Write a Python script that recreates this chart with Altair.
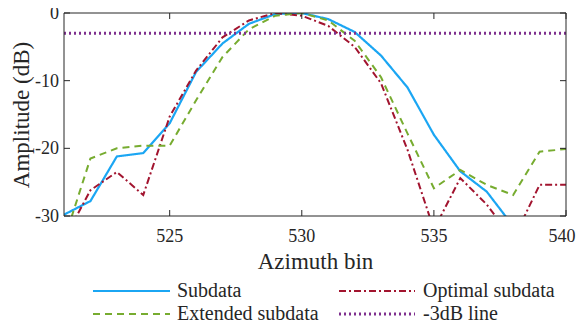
import altair as alt
import pandas as pd

bins = list(range(521, 541))
subdata = [-29.8, -27.8, -21.2, -20.7, -16.3, -8.7, -4.5, -1.6, -0.15, 0.0,
           -0.9, -2.8, -6.3, -11.0, -18.0, -23.4, -26.4, -31.5, -35.0, -38.0]
optimal = [-33.5, -26.2, -23.5, -26.9, -15.3, -8.5, -3.6, -1.1, 0.0, -0.4,
           -1.9, -5.0, -10.4, -20.2, -32.0, -24.4, -28.3, -33.5, -25.4, -25.4]
extended = [-33.6, -21.5, -20.0, -19.6, -19.6, -12.9, -6.5, -2.4, -0.4, 0.0,
            -1.1, -4.1, -9.5, -17.8, -25.9, -23.2, -25.4, -26.9, -20.5, -20.1]
line3db = [-3.0] * len(bins)

series_names = ["Subdata", "Optimal subdata", "Extended subdata", "-3dB line"]
series_vals = [subdata, optimal, extended, line3db]
colors = ["#1ba6f3", "#a2142f", "#77ac30", "#7e2f8e"]
dashes = [[1, 0], [7, 3, 2, 3], [7, 5], [2, 3]]
widths = [2.2, 2.0, 2.0, 3.0]

x_ticks = [525, 530, 535, 540]
y_ticks = [0, -10, -20, -30]
x_tick_labels = ["525", "530", "535", "540"]
y_tick_labels = ["0", "-10", "-20", "-30"]

rows = []
for name, vals in zip(series_names, series_vals):
    for b, v in zip(bins, vals):
        rows.append({"bin": b, "amp": v, "series": name})
df = pd.DataFrame(rows)

W, H = 502, 203
FONT = "Liberation Serif"
INK = "#262626"

xscale = alt.Scale(domain=[521, 540], nice=False, zero=False)
yscale = alt.Scale(domain=[-30, 0], nice=False, zero=False)

layers = []
for i, name in enumerate(series_names):
    sub = df[df.series == name]
    enc = dict(x=alt.X("bin:Q", scale=xscale), y=alt.Y("amp:Q", scale=yscale), order=alt.Order("bin:Q"))
    if i == 0:
        enc["x"] = alt.X("bin:Q", scale=xscale,
                         axis=alt.Axis(values=x_ticks, title="Azimuth bin", ticks=False, domain=False,
                                       grid=False, labels=False, titlePadding=34,
                                       titleFont=FONT, titleFontSize=23, titleFontWeight="normal",
                                       titleColor=INK))
        enc["y"] = alt.Y("amp:Q", scale=yscale,
                         axis=alt.Axis(values=y_ticks, title="Amplitude (dB)", ticks=False, domain=False,
                                       grid=False, labels=False, titlePadding=31,
                                       titleFont=FONT, titleFontSize=23, titleFontWeight="normal",
                                       titleColor=INK))
    layers.append(alt.Chart(sub).mark_line(clip=True, color=colors[i], strokeDash=dashes[i],
                                           strokeWidth=widths[i]).encode(**enc))

xt = pd.DataFrame({"t": x_ticks, "lab": x_tick_labels})
yt = pd.DataFrame({"t": y_ticks, "lab": y_tick_labels})

# tick labels (last x label nudged left so it stays inside the page)
layers.append(alt.Chart(xt.iloc[:-1]).mark_text(font=FONT, fontSize=18, color=INK, align="center",
                                                baseline="top").encode(
    x=alt.X("t:Q", scale=xscale), y=alt.value(H + 12), text="lab:N"))
layers.append(alt.Chart(xt.iloc[-1:]).mark_text(font=FONT, fontSize=18, color=INK, align="center",
                                                baseline="top", dx=-4).encode(
    x=alt.X("t:Q", scale=xscale), y=alt.value(H + 12), text="lab:N"))
layers.append(alt.Chart(yt).mark_text(font=FONT, fontSize=18, color=INK, align="right",
                                      baseline="middle", dy=1).encode(
    y=alt.Y("t:Q", scale=yscale), x=alt.value(-5), text="lab:N"))

# inward ticks on all four sides
layers.append(alt.Chart(xt).mark_rule(color=INK).encode(
    x=alt.X("t:Q", scale=xscale), y=alt.value(H), y2=alt.value(H - 6)))
layers.append(alt.Chart(xt).mark_rule(color=INK).encode(
    x=alt.X("t:Q", scale=xscale), y=alt.value(0), y2=alt.value(6)))
layers.append(alt.Chart(yt).mark_rule(color=INK).encode(
    y=alt.Y("t:Q", scale=yscale), x=alt.value(0), x2=alt.value(6)))
layers.append(alt.Chart(yt).mark_rule(color=INK).encode(
    y=alt.Y("t:Q", scale=yscale), x=alt.value(W), x2=alt.value(W - 6)))

# frame
frame = pd.DataFrame({"k": [0]})
layers.append(alt.Chart(frame).mark_rect(fill=None, stroke=INK, strokeWidth=1).encode(
    x=alt.value(0), x2=alt.value(W), y=alt.value(0), y2=alt.value(H)))

# manual legend (two columns, two rows) below the plot
leg_cols = [(29, 106, 113), (275, 351, 359)]
leg_rows = [278, 301]
for k, i in enumerate(range(4)):
    c = leg_cols[k % 2]
    r = leg_rows[k // 2]
    one = pd.DataFrame({"label": [series_names[i]]})
    layers.append(alt.Chart(one).mark_rule(color=colors[i], strokeDash=dashes[i],
                                           strokeWidth=widths[i]).encode(
        x=alt.value(c[0]), x2=alt.value(c[1]), y=alt.value(r)))
    layers.append(alt.Chart(one).mark_text(align="left", baseline="middle", font=FONT,
                                           fontSize=20, color=INK).encode(
        x=alt.value(c[2]), y=alt.value(r), text="label:N"))

chart = alt.layer(*layers).properties(
    width=W, height=H, background="white",
    autosize=alt.AutoSizeParams(type="none"),
    padding={"left": 56, "top": 5, "right": 10, "bottom": 105},
).configure(font=FONT).configure_view(stroke=None)

chart.save("out.html", embed_options={"renderer": "svg", "actions": False})
